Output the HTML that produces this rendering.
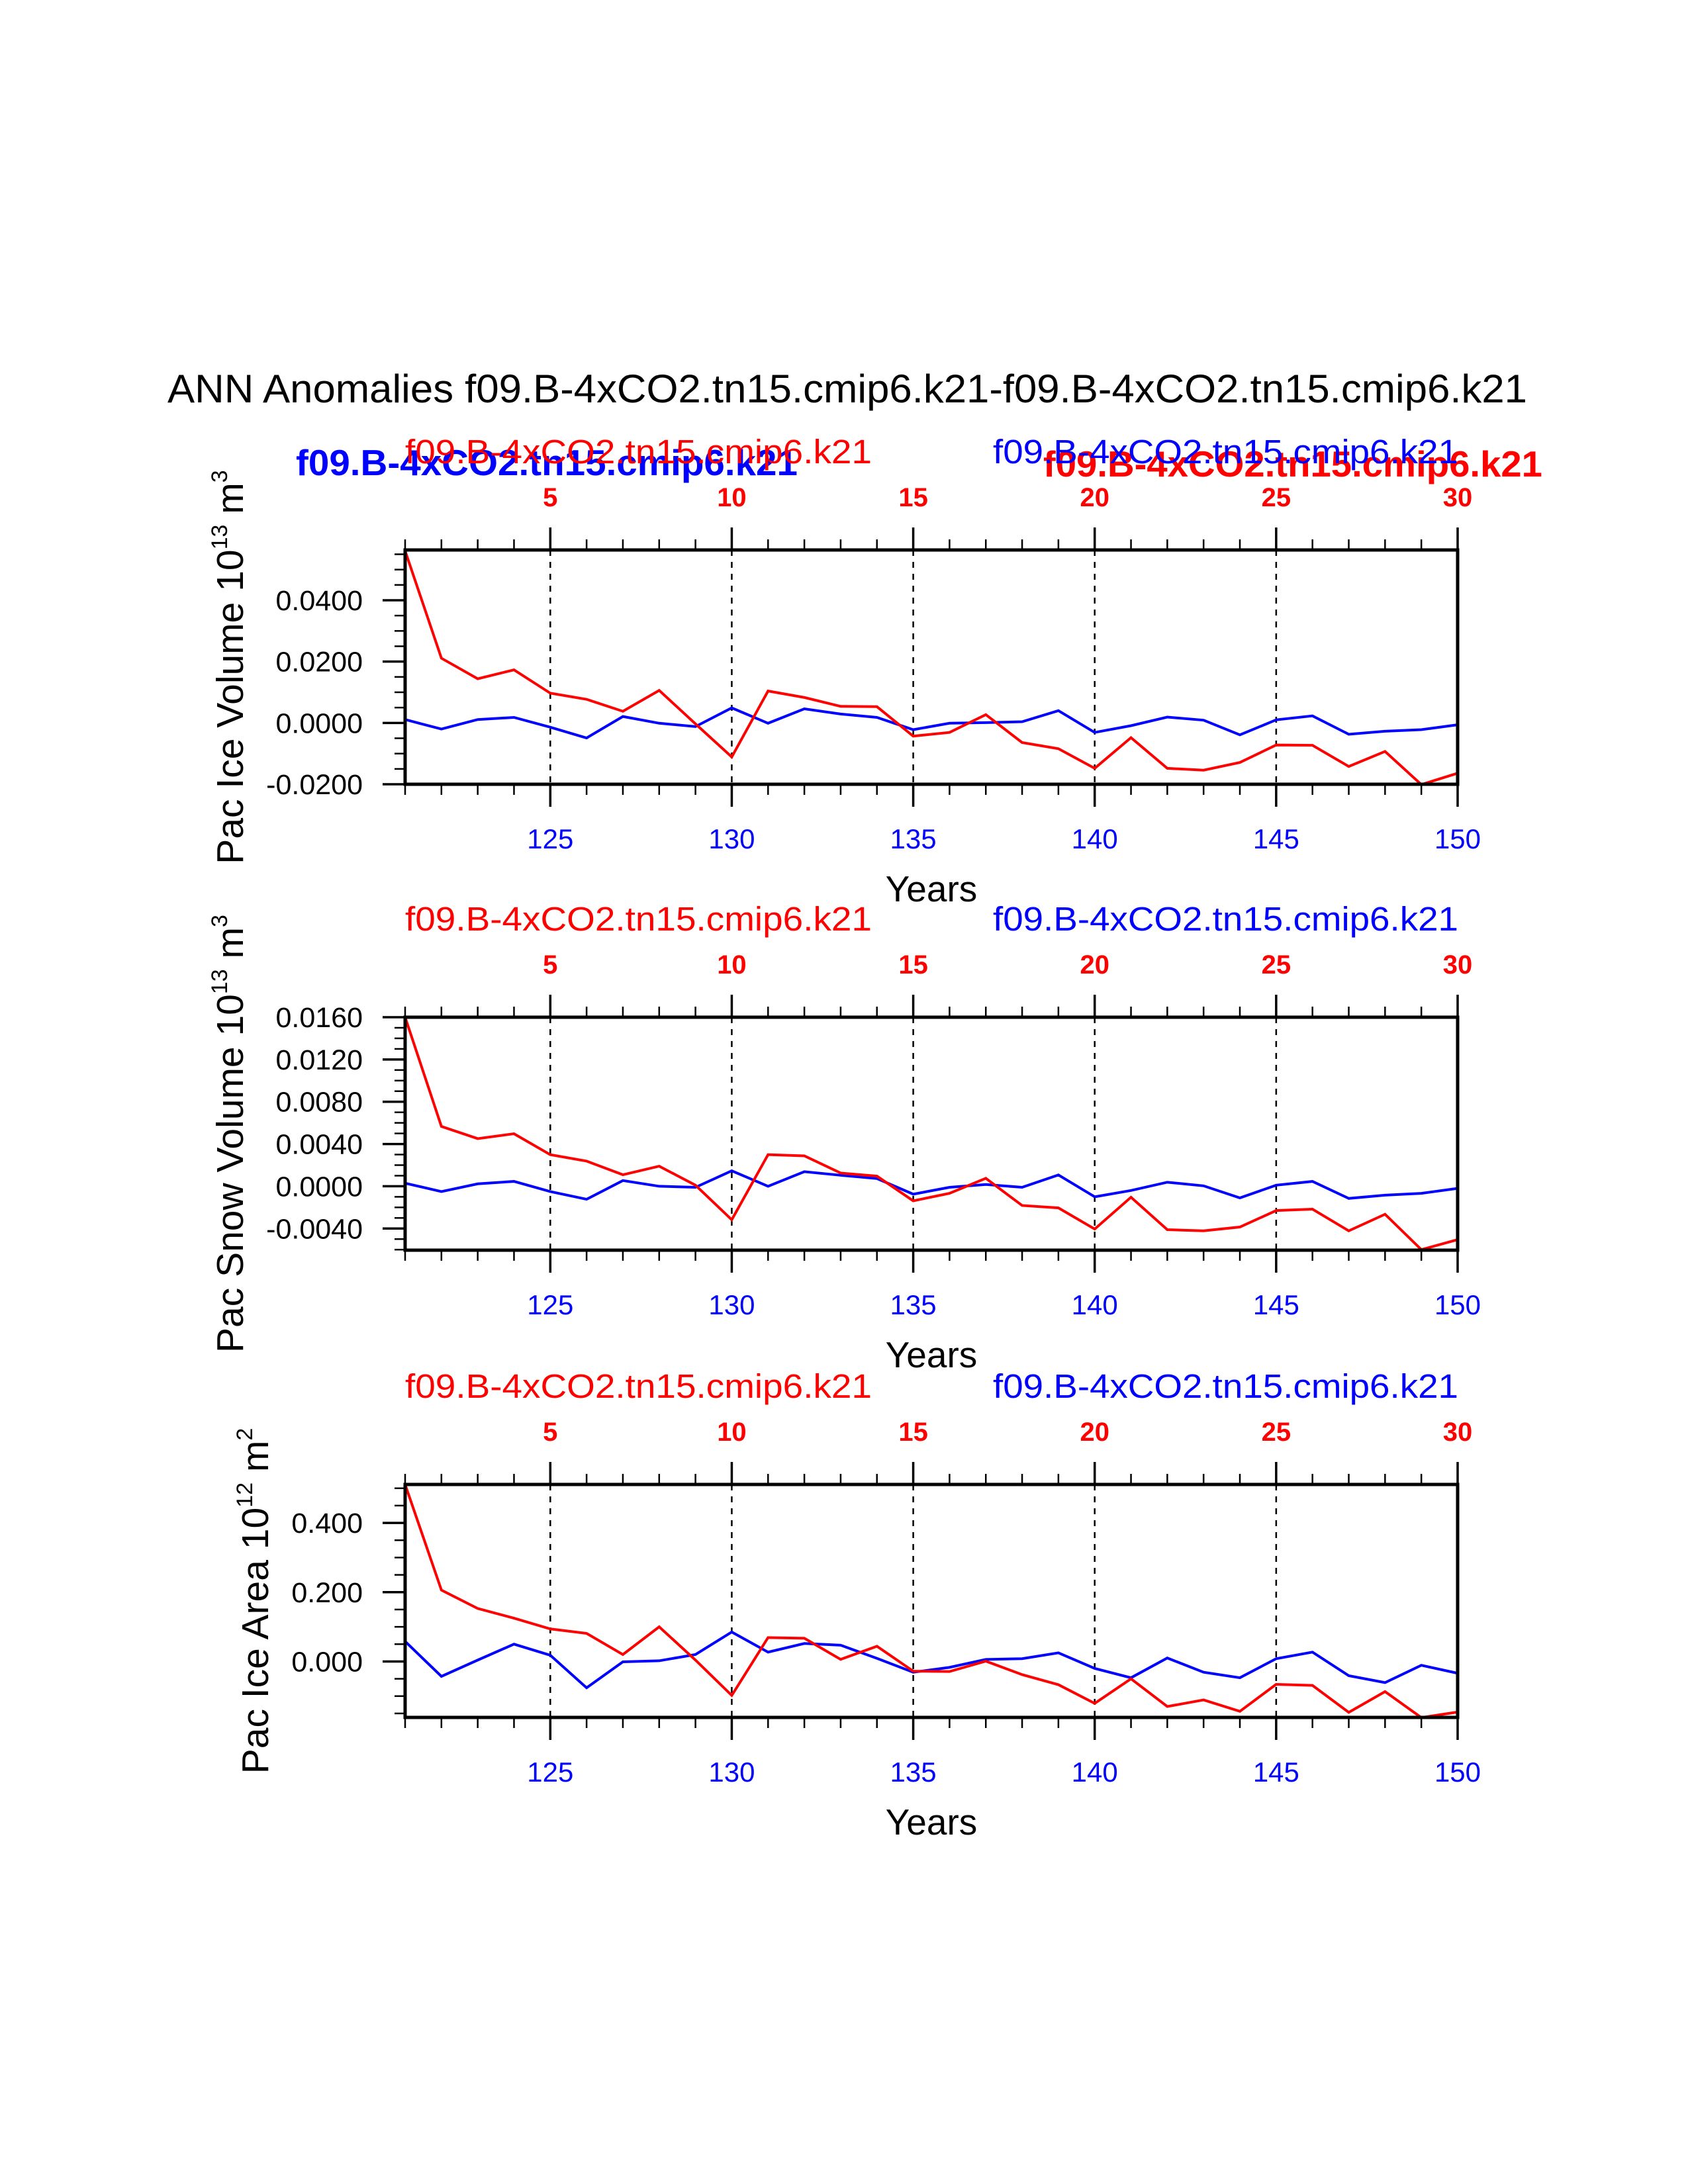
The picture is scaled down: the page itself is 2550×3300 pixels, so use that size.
<!DOCTYPE html>
<html><head><meta charset="utf-8"><style>
html,body{margin:0;padding:0;background:#fff}
svg{display:block}
text{font-family:"Liberation Sans",Arial,sans-serif}
</style></head><body>
<svg id="chart" xmlns="http://www.w3.org/2000/svg" width="2550" height="3300" viewBox="0 0 2550 3300">
<rect width="2550" height="3300" fill="#fff"/>
<text x="1280" y="608" font-size="60" text-anchor="middle" textLength="2054" lengthAdjust="spacingAndGlyphs">ANN Anomalies f09.B-4xCO2.tn15.cmip6.k21-f09.B-4xCO2.tn15.cmip6.k21</text>
<text x="447" y="718" font-size="55" font-weight="bold" fill="#0000ff" textLength="758" lengthAdjust="spacingAndGlyphs">f09.B-4xCO2.tn15.cmip6.k21</text>
<text x="1576" y="720" font-size="55" font-weight="bold" fill="#ff0000" textLength="754" lengthAdjust="spacingAndGlyphs">f09.B-4xCO2.tn15.cmip6.k21</text>
<g id="plots"></g>
</svg>
<script>
const years = [121,122,123,124,125,126,127,128,129,130,131,132,133,134,135,136,137,138,139,140,141,142,143,144,145,146,147,148,149,150];
const bottomTickYears = [125,130,135,140,145,150];
const topTickLabels = ["5","10","15","20","25","30"];

const volRed = [0.0561,0.0211,0.0144,0.0173,0.0097,0.0077,0.0038,0.0106,-0.0003,-0.0111,0.0104,0.0083,0.0054,0.0053,-0.0043,-0.0031,0.0027,-0.0064,-0.0084,-0.0148,-0.0048,-0.0148,-0.0154,-0.0129,-0.0072,-0.0073,-0.0142,-0.0093,-0.0201,-0.0164];
const volBlue = [0.0011,-0.0020,0.0011,0.0018,-0.0014,-0.0049,0.0021,-0.0001,-0.0012,0.0049,-0.0001,0.0046,0.0029,0.0018,-0.0022,-0.0001,0.0001,0.0004,0.0040,-0.0031,-0.0009,0.0019,0.0009,-0.0039,0.0010,0.0023,-0.0037,-0.0027,-0.0022,-0.0006];
const volTicks = [0.04,0.02,0,-0.02];
const volTickLabels = ["0.0400","0.0200","0.0000","-0.0200"];

const snowRed = [0.0160,0.00566,0.00451,0.00497,0.00299,0.00238,0.00109,0.0019,0.0001,-0.00317,0.00299,0.00288,0.00125,0.00096,-0.00138,-0.00067,0.00075,-0.00182,-0.00205,-0.00405,-0.00104,-0.00411,-0.00422,-0.00386,-0.0023,-0.00217,-0.00422,-0.00265,-0.0060,-0.00505];
const snowBlue = [0.00029,-0.0005,0.00023,0.00046,-0.0005,-0.00123,0.00054,0.0,-0.0001,0.00146,0.0,0.00138,0.00104,0.00073,-0.00075,-0.0001,0.00017,-0.0001,0.00107,-0.0010,-0.0004,0.00038,0.00004,-0.0011,0.0001,0.00046,-0.00115,-0.00084,-0.00067,-0.0002];
const snowTicks = [0.016,0.012,0.008,0.004,0,-0.004];
const snowTickLabels = ["0.0160","0.0120","0.0080","0.0040","0.0000","-0.0040"];

const areaRed = [0.511,0.206,0.153,0.125,0.094,0.081,0.020,0.100,0.004,-0.098,0.069,0.067,0.006,0.044,-0.028,-0.029,0.001,-0.038,-0.067,-0.121,-0.050,-0.130,-0.111,-0.144,-0.066,-0.069,-0.147,-0.087,-0.162,-0.146];
const areaBlue = [0.058,-0.043,0.004,0.050,0.018,-0.076,-0.001,0.002,0.020,0.085,0.027,0.052,0.047,0.009,-0.031,-0.017,0.006,0.008,0.025,-0.020,-0.047,0.010,-0.031,-0.047,0.008,0.027,-0.041,-0.061,-0.011,-0.034];
const areaTicks = [0.4,0.2,0];
const areaTickLabels = ["0.400","0.200","0.000"];

const NS = "http://www.w3.org/2000/svg";
const root = document.getElementById("plots");
function el(tag, attrs, parent){const e=document.createElementNS(NS,tag);for(const k in attrs)e.setAttribute(k,attrs[k]);(parent||root).appendChild(e);return e;}

const X0=612, X1=2202;
function xs(yr){return X0+(yr-121)/(150-121)*(X1-X0);}

function drawPlot(cfg){
  const g=el("g",{});
  
  
  const top=cfg.top, bot=cfg.bot;
  const ys=v=>top+(cfg.ymax-v)/(cfg.ymax-cfg.ymin)*(bot-top);
  bottomTickYears.forEach(yr=>{ if(yr<150){
    const l=el("line",{x1:xs(yr),x2:xs(yr),y1:top,y2:bot,stroke:"#000","stroke-width":2.5,"stroke-dasharray":"9,9"},g);
    
    
  }});
  years.forEach(yr=>{
    const major=(yr%5===0);
    const len=major?34:16, w=major?3.5:2.5;
    el("line",{x1:xs(yr),x2:xs(yr),y1:bot,y2:bot+len,stroke:"#000","stroke-width":w},g);
    el("line",{x1:xs(yr),x2:xs(yr),y1:top,y2:top-len,stroke:"#000","stroke-width":w},g);
  });
  bottomTickYears.forEach((yr,i)=>{
    const t=el("text",{x:xs(yr),y:bot+97,"font-size":42,fill:"#0000ff","text-anchor":"middle"},g);t.textContent=yr;
    
    
    const t2=el("text",{x:xs(yr),y:top-66,"font-size":40,"font-weight":"bold",fill:"#ff0000","text-anchor":"middle"},g);t2.textContent=topTickLabels[i];
    
    
  });
  for(let v=cfg.minorStart; v<=cfg.ymax+1e-9; v+=cfg.minorStep){
    el("line",{x1:X0-16,x2:X0,y1:ys(v),y2:ys(v),stroke:"#000","stroke-width":2.5},g);
  }
  cfg.ticks.forEach((v,i)=>{
    el("line",{x1:X0-34,x2:X0,y1:ys(v),y2:ys(v),stroke:"#000","stroke-width":3.5},g);
    const t=el("text",{x:548,y:ys(v)+15,"font-size":43,"text-anchor":"end"},g);t.textContent=cfg.tickLabels[i];
    
    
  });
  const mk=(arr,color,name)=>{
    const p=el("polyline",{points:arr.map((v,i)=>xs(years[i])+","+ys(v)).join(" "),fill:"none",stroke:color,"stroke-width":4,"stroke-linejoin":"miter"},g);
    
    
  };
  mk(cfg.blue,"#0000ff",cfg.name+"-blue-series");
  mk(cfg.red,"#ff0000",cfg.name+"-red-series");
  const fr=el("rect",{x:X0,y:top,width:X1-X0,height:bot-top,fill:"none",stroke:"#000","stroke-width":5},g);
  
  
  const s1=el("text",{x:612,y:top-131,"font-size":51,fill:"#ff0000",textLength:705,lengthAdjust:"spacingAndGlyphs"},g);s1.textContent="f09.B-4xCO2.tn15.cmip6.k21";
  
  
  const s2=el("text",{x:1500,y:top-131,"font-size":51,fill:"#0000ff",textLength:703,lengthAdjust:"spacingAndGlyphs"},g);s2.textContent="f09.B-4xCO2.tn15.cmip6.k21";
  
  
  const xt=el("text",{x:(X0+X1)/2,y:bot+177,"font-size":55,"text-anchor":"middle"},g);xt.textContent="Years";
  
  
  const cy=(top+bot)/2;
  const yt=el("text",{x:cfg.titleX,y:cy,"font-size":57,"text-anchor":"middle",transform:"rotate(-90 "+cfg.titleX+" "+cy+")"},g);
  
  
  const a=el("tspan",{},yt);a.textContent=cfg.label+" 10";
  const b=el("tspan",{"font-size":34,dy:-24},yt);b.textContent=cfg.exp;
  const c=el("tspan",{dy:24},yt);c.textContent=" m";
  const d=el("tspan",{"font-size":34,dy:-24},yt);d.textContent=cfg.unitExp;
}

drawPlot({name:"ice-volume-plot",top:831,bot:1185,ymin:-0.02,ymax:0.0564,minorStart:-0.02,minorStep:0.005,ticks:volTicks,tickLabels:volTickLabels,red:volRed,blue:volBlue,titleX:367,label:"Pac Ice Volume",exp:"13",unitExp:"3"});
drawPlot({name:"snow-volume-plot",top:1537,bot:1889,ymin:-0.00605,ymax:0.016,minorStart:-0.006,minorStep:0.001,ticks:snowTicks,tickLabels:snowTickLabels,red:snowRed,blue:snowBlue,titleX:367,label:"Pac Snow Volume",exp:"13",unitExp:"3"});
drawPlot({name:"ice-area-plot",top:2243,bot:2595,ymin:-0.1615,ymax:0.511,minorStart:-0.15,minorStep:0.05,ticks:areaTicks,tickLabels:areaTickLabels,red:areaRed,blue:areaBlue,titleX:405,label:"Pac Ice Area",exp:"12",unitExp:"2"});
</script>
</body></html>
